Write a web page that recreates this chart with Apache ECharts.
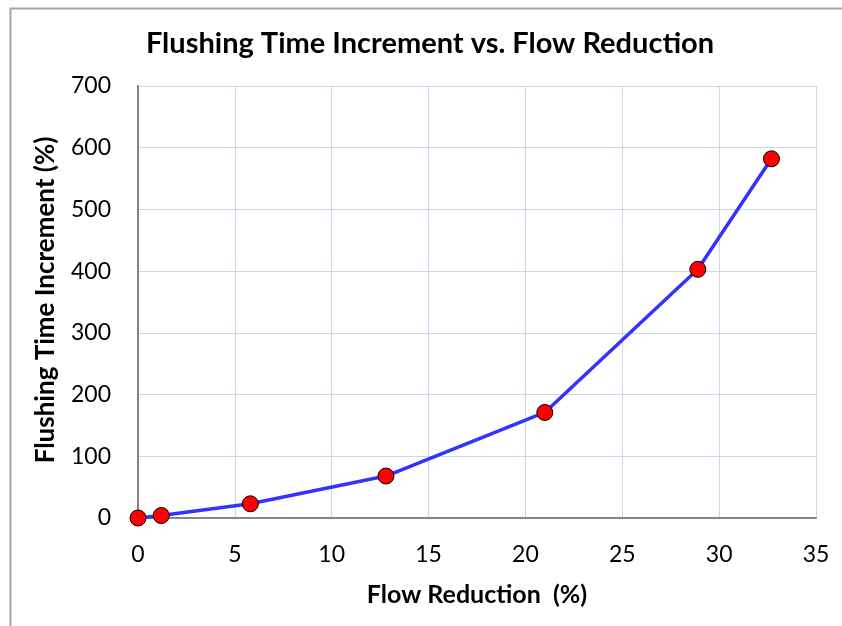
<!DOCTYPE html>
<html><head><meta charset="utf-8">
<script src="https://cdn.jsdelivr.net/npm/echarts@6/dist/echarts.min.js"></script>
<style>html,body{margin:0;padding:0;background:#fff}#c{width:842px;height:626px}</style>
</head><body><div id="c"></div>
<script>
const flowReduction = [0, 1.2, 5.8, 12.8, 21.0, 28.9, 32.7];
const flushingIncrement = [0, 4, 23, 68, 171, 403, 582];
const titleText = 'Flushing Time Increment vs. Flow Reduction';
const xName = 'Flow Reduction  (%)';
const yName = 'Flushing Time Increment (%)';
const FONT = 'Lato, "Open Sans", sans-serif';

const chart = echarts.init(document.getElementById('c'), null, {renderer: 'canvas'});
chart.setOption({
  animation: false,
  backgroundColor: '#fff',
  title: {text: titleText, left: 425, top: 24, textAlign: 'center',
    textStyle: {fontFamily: FONT, fontWeight: 'bold', fontSize: 29, color: '#000'}},
  graphic: [
    {type: 'rect', left: 8, top: 6, shape: {width: 900, height: 700}, silent: true,
     style: {fill: 'none', stroke: '#a6a6a6', lineWidth: 2}},
    {type: 'text', x: 46, y: 300, rotation: Math.PI / 2, silent: true,
     style: {text: yName, fontFamily: FONT, fontWeight: 'bold', fontSize: 26, fill: '#000',
       align: 'center', verticalAlign: 'middle'}}
  ],
  grid: {left: 138, right: 26, top: 86, bottom: 108, containLabel: false},
  xAxis: {type: 'value', min: 0, max: 35, interval: 5,
    name: xName, nameLocation: 'middle', nameGap: 64,
    nameTextStyle: {fontFamily: FONT, fontWeight: 'bold', fontSize: 25, color: '#000'},
    axisLine: {show: true, lineStyle: {color: '#868686', width: 2}},
    axisTick: {show: false},
    axisLabel: {fontFamily: FONT, fontSize: 23, color: '#000', margin: 25},
    splitLine: {show: true, lineStyle: {color: '#c9d7ef', width: 1}}},
  yAxis: {type: 'value', min: 0, max: 700, interval: 100,
    axisLine: {show: true, lineStyle: {color: '#868686', width: 2}},
    axisTick: {show: false},
    axisLabel: {fontFamily: FONT, fontSize: 23, color: '#000', margin: 27},
    splitLine: {show: true, lineStyle: {color: '#c9d7ef', width: 1}}},
  series: [{type: 'line', data: flowReduction.map((x, i) => [x, flushingIncrement[i]]),
    lineStyle: {color: '#3333ff', width: 3.5},
    symbol: 'circle', symbolSize: 16,
    itemStyle: {color: '#ff0000', borderColor: '#000', borderWidth: 1},
    z: 3}]
});
</script></body></html>
